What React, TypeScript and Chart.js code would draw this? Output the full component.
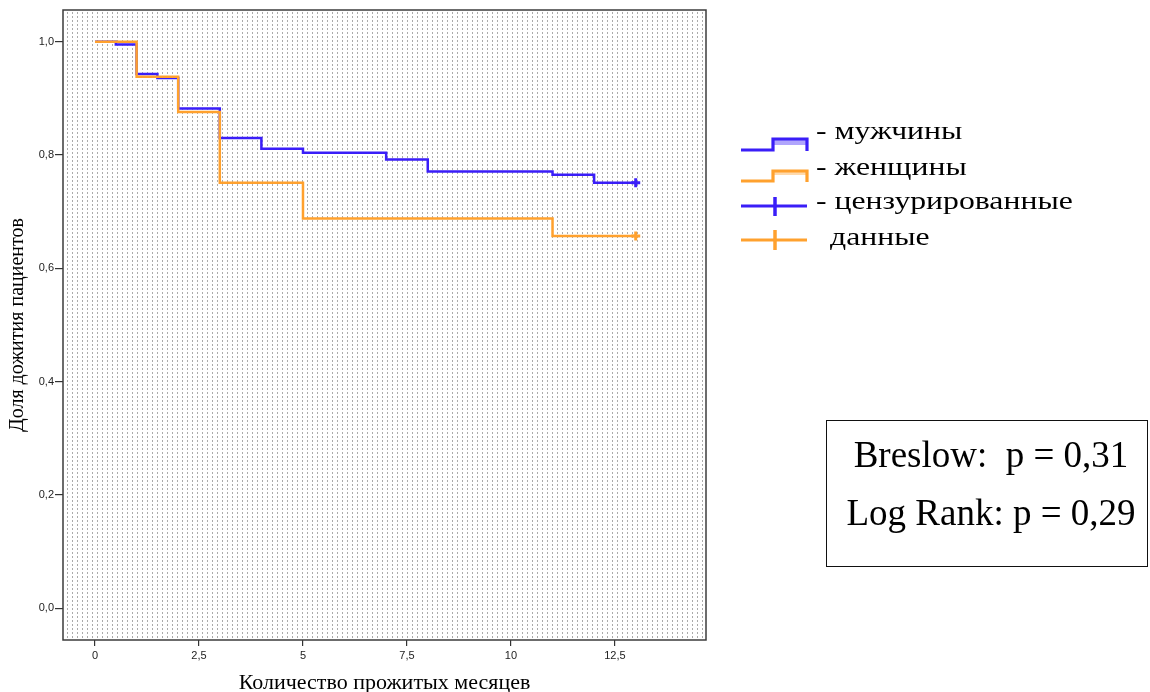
import React, { useEffect, useRef } from "react";
import { Chart, registerables } from "chart.js";

Chart.register(...registerables);

// ---- data ----
const maleTimes = [0, 0.5, 1, 1.5, 2, 3, 4, 5, 7, 8, 11, 12, 13];
const maleSurvival = [1, 0.995, 0.943, 0.936, 0.882, 0.83, 0.811, 0.804, 0.792, 0.771, 0.765, 0.751, 0.751];
const femaleTimes = [0, 1, 2, 3, 5, 11, 13];
const femaleSurvival = [1, 0.938, 0.876, 0.751, 0.688, 0.657, 0.657];
const xTickValues = [0, 2.5, 5, 7.5, 10, 12.5];
const yTickValues = [0, 0.2, 0.4, 0.6, 0.8, 1.0];
const legendLabels = ["- мужчины", "- женщины", "- цензурированные", "данные"];
const statLines = ["Breslow:  p = 0,31", "Log Rank: p = 0,29"];
const xTitle = "Количество прожитых месяцев";
const yTitle = "Доля дожития пациентов";

const BLUE = "#3a1ef8";
const ORANGE = "#ffa12e";

const toPoints = (xs: number[], ys: number[]) => xs.map((x, i) => ({ x, y: ys[i] }));

const patternPlugin = {
  id: "dotPattern",
  beforeDatasetsDraw(chart: any) {
    const { ctx, chartArea } = chart;
    const { left, right, top, bottom } = chartArea;
    ctx.save();
    ctx.strokeStyle = "#ababab";
    ctx.lineWidth = 1;
    ctx.setLineDash([2, 2]);
    for (let x = left + 4; x < right - 1; x += 5) {
      const px = Math.round(x) + 0.5;
      ctx.beginPath();
      ctx.moveTo(px, top + 2);
      ctx.lineTo(px, bottom);
      ctx.stroke();
    }
    ctx.restore();
  },
  afterDraw(chart: any) {
    const { ctx, chartArea } = chart;
    const { left, right, top, bottom } = chartArea;
    ctx.save();
    ctx.strokeStyle = "#3c3c3c";
    ctx.lineWidth = 1.5;
    ctx.strokeRect(left, top, right - left, bottom - top);
    ctx.restore();
  },
};

const fmt = (v: number) => String(Math.round(v * 10) / 10).replace(".", ",");
const fmtY = (v: number) => v.toFixed(1).replace(".", ",");

function KMChart() {
  const ref = useRef<HTMLCanvasElement | null>(null);
  useEffect(() => {
    if (!ref.current) return;
    const lastRadius = (c: any) => (c.dataIndex === c.dataset.data.length - 1 ? 4.5 : 0);
    const chart = new Chart(ref.current, {
      type: "line",
      data: {
        datasets: [
          {
            label: "мужчины",
            data: toPoints(maleTimes, maleSurvival),
            borderColor: BLUE,
            backgroundColor: BLUE,
            borderWidth: 2.5,
            stepped: "before",
            fill: false,
            borderJoinStyle: "miter",
            pointStyle: "cross",
            pointRadius: lastRadius,
            pointBorderWidth: 3,
            pointBorderColor: BLUE,
            pointHitRadius: 0,
            order: 2,
          },
          {
            label: "женщины",
            data: toPoints(femaleTimes, femaleSurvival),
            borderColor: ORANGE,
            backgroundColor: ORANGE,
            borderWidth: 2.5,
            stepped: "before",
            fill: false,
            borderJoinStyle: "miter",
            pointStyle: "cross",
            pointRadius: lastRadius,
            pointBorderWidth: 3,
            pointBorderColor: ORANGE,
            pointHitRadius: 0,
            order: 1,
          },
        ],
      } as any,
      options: {
        responsive: false,
        animation: false,
        devicePixelRatio: 1,
        layout: { padding: { left: 0, top: 10, right: 444, bottom: 0 } },
        plugins: { legend: { display: false }, tooltip: { enabled: false } },
        scales: {
          x: {
            type: "linear",
            min: -0.77,
            max: 14.69,
            afterBuildTicks: (s: any) => {
              s.ticks = xTickValues.map((v) => ({ value: v }));
            },
            afterFit: (s: any) => {
              s.height = 52;
            },
            ticks: {
              autoSkip: false,
              maxRotation: 0,
              padding: 3,
              color: "#222",
              font: { family: "'Liberation Sans', Arial, sans-serif", size: 11 },
              callback: (v: any) => fmt(Number(v)),
            },
            grid: { drawOnChartArea: false, drawTicks: true, tickLength: 6, color: "#333", lineWidth: 1.2 },
            border: { display: false },
            title: {
              display: true,
              text: xTitle,
              color: "#000",
              font: { family: "'Liberation Serif', 'Times New Roman', serif", size: 22, lineHeight: 0.8 },
              padding: { top: 0, bottom: 0 },
            },
          },
          y: {
            type: "linear",
            min: -0.056,
            max: 1.056,
            afterBuildTicks: (s: any) => {
              s.ticks = yTickValues.map((v) => ({ value: v }));
            },
            afterFit: (s: any) => {
              s.width = 63;
            },
            ticks: {
              autoSkip: false,
              padding: 1,
              color: "#222",
              font: { family: "'Liberation Sans', Arial, sans-serif", size: 11 },
              callback: (v: any) => fmtY(Number(v)),
            },
            grid: { drawOnChartArea: false, drawTicks: true, tickLength: 8, color: "#333", lineWidth: 1.2 },
            border: { display: false },
            title: {
              display: true,
              text: yTitle,
              color: "#000",
              font: { family: "'Liberation Serif', 'Times New Roman', serif", size: 20, lineHeight: 1 },
              padding: { top: 8, bottom: 0 },
            },
          },
        },
      } as any,
      plugins: [patternPlugin],
    });
    return () => chart.destroy();
  }, []);
  return <canvas ref={ref} width={1150} height={692} style={{ position: "absolute", left: 0, top: 0, width: 1150, height: 692 }} />;
}

const serif = "'Liberation Serif', 'Times New Roman', serif";

function Legend() {
  const rowsBaseline = [140, 176, 210, 246];
  return (
    <>
      <svg width={1150} height={692} style={{ position: "absolute", left: 0, top: 0, pointerEvents: "none" }}>
        {/* male step icon */}
        <rect x={773} y={139} width={34} height={6} fill={BLUE} opacity={0.4} />
        <polyline points="741,150 773,150 773,139 807,139 807,151" fill="none" stroke={BLUE} strokeWidth={3.2} />
        {/* female step icon */}
        <rect x={773} y={171} width={34} height={4} fill={ORANGE} opacity={0.4} />
        <polyline points="741,181 773,181 773,171 807,171 807,182" fill="none" stroke={ORANGE} strokeWidth={3.2} />
        {/* censored crosses */}
        <line x1={741} y1={206} x2={807} y2={206} stroke={BLUE} strokeWidth={3.2} />
        <line x1={775} y1={197} x2={775} y2={216} stroke={BLUE} strokeWidth={3.5} />
        <line x1={741} y1={240} x2={807} y2={240} stroke={ORANGE} strokeWidth={3.2} />
        <line x1={775} y1={230} x2={775} y2={250} stroke={ORANGE} strokeWidth={3.5} />
      </svg>
      {legendLabels.map((t, i) => (
        <div
          key={t}
          style={{
            position: "absolute",
            left: i === 3 ? 830 : 816,
            top: rowsBaseline[i] - 22,
            fontFamily: serif,
            fontSize: 26,
            lineHeight: "26px",
            whiteSpace: "nowrap",
            color: "#000",
            transform: "scaleX(1.22)",
            transformOrigin: "left center",
          }}
        >
          {t}
        </div>
      ))}
    </>
  );
}

function StatsBox() {
  return (
    <div
      style={{
        position: "absolute",
        left: 826,
        top: 420,
        width: 320,
        height: 145,
        border: "1.5px solid #111",
        boxSizing: "content-box",
        fontFamily: serif,
        fontSize: 37,
        color: "#000",
      }}
    >
      {statLines.map((t, i) => (
        <div
          key={t}
          style={{
            position: "absolute",
            left: 4,
            width: 320,
            top: (i === 0 ? 435 : 493) - 420,
            lineHeight: "37px",
            textAlign: "center",
            whiteSpace: "pre",
          }}
        >
          {t}
        </div>
      ))}
    </div>
  );
}

export default function App() {
  return (
    <div style={{ position: "absolute", left: 0, top: 0, width: 1150, height: 692, background: "#fff" }}>
      <KMChart />
      <Legend />
      <StatsBox />
    </div>
  );
}
